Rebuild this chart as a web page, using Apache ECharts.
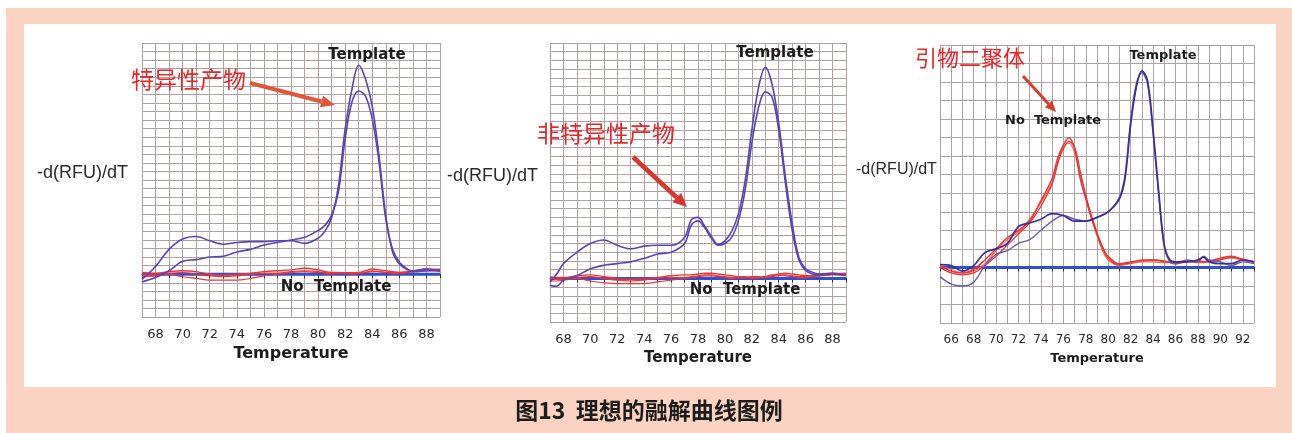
<!DOCTYPE html>
<html>
<head>
<meta charset="utf-8">
<script src="https://cdn.jsdelivr.net/npm/echarts@6/dist/echarts.min.js"></script>
<style>
  html, body { margin: 0; padding: 0; background: #fff; }
  #chart { width: 1292px; height: 433px; }
</style>
</head>
<body>
<div id="chart"></div>
<script>
// ---- Panel 1: specific product only ----
const p1Temps = [67, 68, 69, 70, 71, 72, 73, 74, 75, 76, 77, 78, 79, 80, 80.5, 81, 81.5, 82, 82.5, 83, 83.5, 84, 84.5, 85, 85.5, 86, 86.5, 87, 88, 89];
const p1TemplateA = [-0.6, 0.9, 2.9, 4.1, 4.4, 3.9, 3.5, 3.7, 3.8, 3.8, 3.9, 3.9, 3.6, 4.2, 5.0, 6.6, 10.3, 17.0, 21.6, 24.4, 22.8, 19.6, 13.8, 6.8, 2.6, 1.2, 0.6, 0.35, 0.6, 0.4];
const p1TemplateB = [-0.9, -0.4, 0.4, 1.5, 1.7, 2.0, 2.1, 2.6, 2.9, 3.4, 3.7, 4.0, 4.3, 5.1, 5.7, 6.9, 9.6, 15.8, 20.1, 21.4, 20.8, 18.1, 13.1, 6.4, 2.9, 1.4, 0.7, 0.3, 0.4, 0.5];
const p1NoTemplateA = [0.2, 0.1, 0.3, 0.4, 0.3, 0.0, -0.1, 0.0, 0.1, 0.3, 0.4, 0.5, 0.7, 0.5, 0.3, 0.2, 0.2, 0.1, 0.1, 0.2, 0.4, 0.6, 0.5, 0.4, 0.3, 0.2, 0.3, 0.4, 0.6, 0.5];
const p1NoTemplateB = [-0.3, -0.2, 0.0, -0.3, -0.5, -0.7, -0.7, -0.7, -0.5, -0.2, 0.0, 0.2, 0.3, 0.2, 0.2, 0.1, 0.1, 0.2, 0.2, 0.1, 0.2, 0.3, 0.3, 0.2, 0.2, 0.1, 0.2, 0.3, 0.4, 0.3];
const p1NoTemplateC = [0.0, -0.1, 0.1, 0.2, 0.0, -0.2, -0.3, -0.2, 0.0, 0.1, 0.1, 0.3, 0.4, 0.3, 0.1, 0.0, 0.1, 0.1, 0.0, 0.1, 0.2, 0.4, 0.3, 0.2, 0.1, 0.1, 0.2, 0.3, 0.5, 0.6];

// ---- Panel 2: specific product plus a non-specific shoulder ----
const p2Temps = [67, 67.5, 68, 69, 70, 71, 72, 73, 74, 75, 76, 77, 77.5, 78, 78.5, 79, 79.5, 80, 80.5, 81, 81.5, 82, 82.5, 83, 83.5, 84, 84.5, 85, 85.5, 86, 86.5, 87, 88, 89];
const p2TemplateA = [-0.4, 0.5, 1.7, 3.0, 4.0, 4.4, 3.8, 3.4, 3.7, 3.8, 3.8, 4.7, 6.7, 7.0, 6.0, 4.8, 3.9, 4.3, 5.4, 7.4, 11.2, 17.0, 21.9, 24.2, 22.3, 17.8, 11.6, 6.3, 2.4, 1.1, 0.7, 0.5, 0.6, 0.4];
const p2TemplateB = [-0.8, -0.9, -0.2, 0.3, 1.1, 1.5, 1.7, 1.9, 2.3, 2.8, 3.0, 4.0, 6.1, 6.6, 5.8, 4.6, 3.8, 4.0, 4.7, 6.6, 10.1, 15.5, 19.6, 21.4, 20.8, 17.0, 10.9, 5.5, 2.1, 0.9, 0.5, 0.4, 0.5, 0.4];
const p2NoTemplateA = [0.2, 0.1, 0.1, 0.3, 0.4, 0.2, 0.0, -0.1, 0.0, 0.1, 0.3, 0.4, 0.4, 0.5, 0.6, 0.6, 0.5, 0.4, 0.3, 0.2, 0.2, 0.1, 0.1, 0.2, 0.3, 0.5, 0.6, 0.5, 0.4, 0.3, 0.3, 0.4, 0.6, 0.5];
const p2NoTemplateB = [-0.3, -0.3, -0.2, 0.0, -0.3, -0.5, -0.6, -0.6, -0.6, -0.4, -0.2, 0.0, 0.1, 0.2, 0.3, 0.3, 0.2, 0.2, 0.1, 0.1, 0.1, 0.2, 0.2, 0.1, 0.2, 0.3, 0.4, 0.3, 0.2, 0.2, 0.3, 0.3, 0.4, 0.3];
const p2NoTemplateC = [0.0, -0.1, -0.1, 0.1, 0.2, 0.0, -0.2, -0.3, -0.2, 0.0, 0.1, 0.1, 0.2, 0.3, 0.4, 0.4, 0.3, 0.1, 0.0, 0.1, 0.1, 0.0, 0.1, 0.2, 0.4, 0.4, 0.3, 0.2, 0.1, 0.1, 0.2, 0.3, 0.5, 0.6];

// ---- Panel 3: primer dimer in the no-template controls ----
const p3Temps = [65, 66, 67, 68, 69, 70, 71, 72, 73, 74, 75, 76, 77, 78, 79, 80, 81, 81.5, 82, 82.5, 83, 83.5, 84, 84.5, 85, 85.5, 86, 87, 88, 88.5, 89, 90, 91, 92, 93];
const p3TemplateA = [0.15, 0.1, -0.2, 0.1, 0.8, 1.0, 1.3, 2.2, 2.4, 2.6, 2.9, 2.8, 2.5, 2.5, 2.7, 3.0, 3.7, 4.8, 7.7, 9.7, 10.6, 10.1, 7.4, 4.1, 1.2, 0.4, 0.3, 0.3, 0.4, 0.55, 0.3, 0.2, 0.2, 0.4, 0.3];
const p3TemplateB = [-0.5, -0.9, -1.0, -0.8, 0.1, 0.7, 0.9, 1.3, 1.5, 2.0, 2.5, 2.8, 2.6, 2.5, 2.7, 3.0, 3.8, 5.0, 7.9, 9.9, 10.5, 9.9, 7.2, 3.9, 1.1, 0.3, 0.2, 0.4, 0.3, 0.6, 0.4, 0.3, 0.1, 0.3, 0.2];
const p3DimerTemps = [65, 66, 67, 68, 69, 70, 71, 72, 73, 74, 75, 75.5, 76, 76.5, 77, 77.5, 78, 78.5, 79, 79.5, 80, 81, 82, 83, 84, 85, 86, 87, 88, 89, 90, 91, 92, 93];
const p3NoTemplateA = [0.1, -0.2, -0.3, -0.1, 0.4, 1.0, 1.6, 2.0, 2.5, 3.6, 4.8, 5.9, 6.6, 7.0, 6.4, 4.8, 3.7, 2.65, 1.8, 1.05, 0.5, 0.15, 0.25, 0.4, 0.4, 0.35, 0.2, 0.3, 0.3, 0.35, 0.5, 0.6, 0.4, 0.3];
const p3NoTemplateB = [0.0, -0.3, -0.4, -0.3, 0.1, 0.6, 1.2, 1.8, 2.4, 3.3, 4.5, 5.6, 6.4, 6.8, 6.5, 5.2, 3.9, 2.8, 1.9, 1.1, 0.6, 0.2, 0.3, 0.35, 0.4, 0.3, 0.25, 0.3, 0.35, 0.3, 0.4, 0.55, 0.45, 0.3];
const p3NoTemplateC = [0.05, -0.1, -0.3, -0.2, 0.2, 0.9, 1.5, 1.9, 2.6, 3.5, 4.6, 5.7, 6.5, 6.7, 6.2, 5.0, 3.8, 2.7, 1.7, 0.9, 0.4, 0.1, 0.2, 0.3, 0.3, 0.25, 0.3, 0.35, 0.25, 0.3, 0.45, 0.5, 0.4, 0.25];

// ---- Text ----
const yAxisTitle = '-d(RFU)/dT';
const xAxisTitle = 'Temperature';
const templateLabel = 'Template';
const noTemplateLabel = 'No  Template';
const notes = ['特异性产物', '非特异性产物', '引物二聚体'];
const figureTitle = '图13  理想的融解曲线图例';

const pairs = (xs, ys) => xs.map((x, i) => [x, ys[i]]);

const GRID_COLOR = '#ada1a1';
const TEMPLATE_COLOR = '#5a44b4';
const TEMPLATE_DARK = '#3b2f96';
const NTC_COLOR = '#e8353a';
const BASE_COLOR = '#2e4fcf';
const LATIN = '"DejaVu Sans", "Liberation Sans", sans-serif';
const CJK = '"Noto Sans CJK SC", sans-serif';

const panels = [
  { grid: { left: 142, top: 43, width: 298, height: 274 }, xMin: 67, xMax: 89, yMin: -5, yMax: 27, tickFont: 13, nameFont: 16, nameGap: 28 },
  { grid: { left: 550, top: 43, width: 296, height: 279 }, xMin: 67, xMax: 89, yMin: -5, yMax: 27, tickFont: 13, nameFont: 15, nameGap: 28 },
  { grid: { left: 940, top: 45, width: 314, height: 278 }, xMin: 65, xMax: 93, yMin: -3, yMax: 12, tickFont: 12, nameFont: 13, nameGap: 29 }
];

const xAxes = panels.map((p, i) => ({
  type: 'value', gridIndex: i, min: p.xMin, max: p.xMax, interval: 1,
  name: xAxisTitle, nameLocation: 'middle', nameGap: p.nameGap,
  nameTextStyle: { fontFamily: LATIN, fontWeight: 'bold', fontSize: p.nameFont, color: '#1b1b1b' },
  axisLine: { show: true, lineStyle: { color: '#2a2a2a', width: 1 } },
  axisTick: { show: true, length: 4, lineStyle: { color: '#2a2a2a' } },
  axisLabel: {
    margin: 11, fontFamily: LATIN, fontSize: p.tickFont, color: '#2a2a2a',
    formatter: v => (v % 2 === 0 ? String(v) : '')
  },
  splitLine: { show: true, lineStyle: { color: GRID_COLOR, width: 1 } }
}));

const yAxes = panels.map((p, i) => ({
  type: 'value', gridIndex: i, min: p.yMin, max: p.yMax, interval: 1,
  axisLine: { show: false }, axisTick: { show: false }, axisLabel: { show: false },
  splitLine: { show: true, lineStyle: { color: GRID_COLOR, width: 1 } }
}));

function curve(idx, xs, ys, color, width, z) {
  return {
    type: 'line', xAxisIndex: idx, yAxisIndex: idx, data: pairs(xs, ys),
    smooth: 0.35, showSymbol: false, silent: true, z: z || 3,
    lineStyle: { color: color, width: width }
  };
}
function baseline(idx, p) {
  return {
    type: 'line', xAxisIndex: idx, yAxisIndex: idx,
    data: [[p.xMin, 0], [p.xMax, 0]], showSymbol: false, silent: true, z: 2,
    lineStyle: { color: BASE_COLOR, width: 3 }
  };
}

const series = [
  baseline(0, panels[0]),
  curve(0, p1Temps, p1NoTemplateB, NTC_COLOR, 1.2),
  curve(0, p1Temps, p1NoTemplateC, NTC_COLOR, 1.2),
  curve(0, p1Temps, p1NoTemplateA, NTC_COLOR, 1.4),
  curve(0, p1Temps, p1TemplateB, TEMPLATE_COLOR, 1.6, 4),
  curve(0, p1Temps, p1TemplateA, TEMPLATE_COLOR, 1.6, 4),

  baseline(1, panels[1]),
  curve(1, p2Temps, p2NoTemplateB, NTC_COLOR, 1.2),
  curve(1, p2Temps, p2NoTemplateC, NTC_COLOR, 1.2),
  curve(1, p2Temps, p2NoTemplateA, NTC_COLOR, 1.4),
  curve(1, p2Temps, p2TemplateB, TEMPLATE_COLOR, 1.6, 4),
  curve(1, p2Temps, p2TemplateA, TEMPLATE_COLOR, 1.6, 4),

  baseline(2, panels[2]),
  curve(2, p3DimerTemps, p3NoTemplateC, '#f06a4a', 1.2),
  curve(2, p3DimerTemps, p3NoTemplateB, NTC_COLOR, 1.3),
  curve(2, p3DimerTemps, p3NoTemplateA, NTC_COLOR, 1.5),
  curve(2, p3Temps, p3TemplateB, '#6a5aa8', 1.4, 4),
  curve(2, p3Temps, p3TemplateA, TEMPLATE_DARK, 1.7, 4)
];

// arrow made of a shaft and a triangular head pointing at (x2, y2)
function arrow(x1, y1, x2, y2, color, width, headLen, headHalf) {
  const dx = x2 - x1, dy = y2 - y1, len = Math.hypot(dx, dy);
  const ux = dx / len, uy = dy / len;
  const bx = x2 - ux * headLen, by = y2 - uy * headLen;
  return [
    { type: 'line', shape: { x1: x1, y1: y1, x2: bx, y2: by }, style: { stroke: color, lineWidth: width }, z: 20 },
    { type: 'polygon', shape: { points: [[x2, y2], [bx - uy * headHalf, by + ux * headHalf], [bx + uy * headHalf, by - ux * headHalf]] }, style: { fill: color }, z: 20 }
  ];
}

function text(x, y, str, font, color, align) {
  return {
    type: 'text', x: x, y: y, z: 20,
    style: { text: str, font: font, fill: color, align: align || 'center', verticalAlign: 'middle' }
  };
}

const graphics = [
  { type: 'rect', shape: { x: 6, y: 8, width: 1286, height: 425 }, style: { fill: '#fbd3c2' }, z: -20 },
  { type: 'rect', shape: { x: 24, y: 24, width: 1252, height: 363 }, style: { fill: '#ffffff' }, z: -19 },
  text(649, 410, figureTitle, 'bold 23px ' + CJK, '#1c1c1c'),

  text(37, 173, yAxisTitle, '18px "Liberation Sans", sans-serif', '#2a2a2a', 'left'),
  text(447, 176, yAxisTitle, '18px "Liberation Sans", sans-serif', '#2a2a2a', 'left'),
  text(856, 170, yAxisTitle, '16px "Liberation Sans", sans-serif', '#2a2a2a', 'left'),

  text(367, 55, templateLabel, 'bold 15px ' + LATIN, '#1b1b1b'),
  text(336, 287, noTemplateLabel, 'bold 15px ' + LATIN, '#1b1b1b'),
  text(775, 53, templateLabel, 'bold 15px ' + LATIN, '#1b1b1b'),
  text(745, 290, noTemplateLabel, 'bold 15px ' + LATIN, '#1b1b1b'),
  text(1163, 56, templateLabel, 'bold 13px ' + LATIN, '#1b1b1b'),
  text(1053, 121, noTemplateLabel, 'bold 13px ' + LATIN, '#1b1b1b'),

  text(131, 79, notes[0], '23px ' + CJK, '#e8262a', 'left'),
  text(537, 133, notes[1], '23px ' + CJK, '#e8262a', 'left'),
  text(915, 58, notes[2], '22px ' + CJK, '#e8262a', 'left'),
  ...arrow(250, 83, 335, 105, '#e0573b', 4, 14, 6),
  ...arrow(633, 157, 687, 207, '#d9352d', 4.5, 14, 6.5),
  ...arrow(1023, 76, 1056, 112, '#d83c30', 3, 11, 5)
];

const chart = echarts.init(document.getElementById('chart'), null, { renderer: 'canvas' });
chart.setOption({
  backgroundColor: '#ffffff',
  animation: false,
  grid: panels.map(p => Object.assign({ containLabel: false }, p.grid)),
  xAxis: xAxes,
  yAxis: yAxes,
  series: series,
  graphic: graphics
});
</script>
</body>
</html>
